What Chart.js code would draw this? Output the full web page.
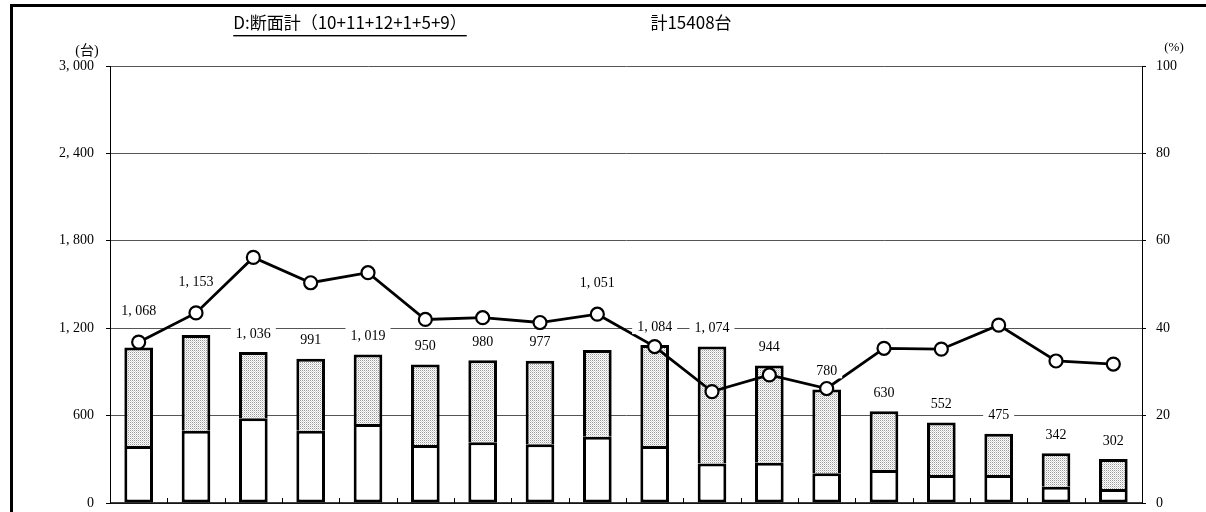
<!DOCTYPE html>
<html>
<head>
<meta charset="utf-8">
<script src="https://cdn.jsdelivr.net/npm/chart.js@4/dist/chart.umd.min.js"></script>
<style>
  html, body { margin: 0; padding: 0; background: #fff; }
  #wrap { position: relative; width: 1206px; height: 512px; }
</style>
</head>
<body>
<div id="wrap"><canvas id="chart" width="1206" height="512"></canvas></div>
<script>
// ── Data ──
const categories = ["1", "2", "3", "4", "5", "6", "7", "8", "9", "10", "11", "12", "13", "14", "15", "16", "17", "18"];
const totals = [1068, 1153, 1036, 991, 1019, 950, 980, 977, 1051, 1084, 1074, 944, 780, 630, 552, 475, 342, 302];
const lowerPart = [391, 496, 581, 496, 542, 398, 417, 403, 455, 391, 272, 277, 204, 227, 192, 192, 112, 96];
const ratioPct = [36.8, 43.5, 56.2, 50.4, 52.7, 42.0, 42.4, 41.3, 43.2, 35.8, 25.5, 29.3, 26.2, 35.4, 35.2, 40.7, 32.5, 31.8];
const leftTicks = [0, 600, 1200, 1800, 2400, 3000];
const rightTicks = [0, 20, 40, 60, 80, 100];
const titleText = "D:断面計（10+11+12+1+5+9）";
const totalText = "計15408台";

const upperPart = totals.map((t, i) => t - lowerPart[i]);

const SERIF = "'Liberation Serif', 'Noto Sans CJK JP', serif";
const GOTHIC = "'Noto Sans CJK JP', 'Noto Sans', sans-serif";

function fmtNum(v) {
  // thousands separator drawn wide, like the original
  return v.toLocaleString("en-US").replace(",", ", ");
}

function makeDotPattern() {
  const c = document.createElement("canvas");
  c.width = 2;
  c.height = 2;
  const g = c.getContext("2d");
  g.fillStyle = "#ffffff";
  g.fillRect(0, 0, 2, 2);
  g.fillStyle = "#9a9a9a";
  g.fillRect(0, 0, 1, 1);
  g.fillStyle = "#d4d4d4";
  g.fillRect(1, 1, 1, 1);
  return document.getElementById("chart").getContext("2d").createPattern(c, "repeat");
}

function noScalePad(s) {
  s.paddingTop = 0;
  s.paddingBottom = 0;
}

// frame, titles, unit labels, x axis
const decorPlugin = {
  id: "decor",
  beforeDraw(chart) {
    const ctx = chart.ctx;
    ctx.save();
    ctx.fillStyle = "#fff";
    ctx.fillRect(0, 0, chart.width, chart.height);
    ctx.fillStyle = "#000";
    ctx.fillRect(10, 4, chart.width - 10, 3);
    ctx.fillRect(10, 4, 3, chart.height - 4);
    ctx.restore();
  },
  afterDraw(chart) {
    const ctx = chart.ctx;
    ctx.save();
    ctx.fillStyle = "#000";
    ctx.textBaseline = "middle";
    ctx.font = "17px " + GOTHIC;
    ctx.textAlign = "center";
    ctx.fillText(titleText, 350, 23);
    const w = ctx.measureText(titleText).width;
    ctx.fillRect(350 - w / 2, 35, w, 1.4);
    ctx.fillText(totalText, 691, 23);

    ctx.font = "14px " + SERIF;
    ctx.fillText("(台)", 87, 51);
    ctx.font = "13px " + SERIF;
    ctx.fillText("(%)", 1174, 48);

    // x axis line and ticks between categories, pointing up
    const x = chart.scales.x;
    const area = chart.chartArea;
    ctx.strokeStyle = "#000";
    ctx.lineWidth = 1.5;
    ctx.beginPath();
    ctx.moveTo(area.left, area.bottom);
    ctx.lineTo(area.right, area.bottom);
    ctx.stroke();
    ctx.lineWidth = 1;
    for (let i = 1; i < categories.length; i++) {
      const px = Math.round((x.getPixelForValue(i - 1) + x.getPixelForValue(i)) / 2) + 0.5;
      ctx.beginPath();
      ctx.moveTo(px, area.bottom);
      ctx.lineTo(px, area.bottom - 5);
      ctx.stroke();
    }
    ctx.restore();
  },
};

// total value labels with white boxes
const totalLabelPlugin = {
  id: "totalLabels",
  afterDatasetsDraw(chart) {
    const ctx = chart.ctx;
    const y = chart.scales.y;
    const y1 = chart.scales.y1;
    const x = chart.scales.x;
    ctx.save();
    ctx.font = "14px " + SERIF;
    ctx.textAlign = "center";
    ctx.textBaseline = "middle";
    totals.forEach((t, i) => {
      const cx = x.getPixelForValue(i);
      const top = y.getPixelForValue(t);
      const pointY = y1.getPixelForValue(ratioPct[i]);
      let ly = top - 19;
      if (Math.abs(pointY - ly) < 17.5) ly = pointY - 32;
      const txt = fmtNum(t);
      const w = ctx.measureText(txt).width + 10;
      ctx.fillStyle = "#fff";
      ctx.fillRect(cx - w / 2, ly - 8, w, 16);
      ctx.fillStyle = "#000";
      ctx.fillText(txt, cx, ly + 1);
    });
    ctx.restore();
  },
};

function renderChart() {
  const ctx = document.getElementById("chart");
  const dots = makeDotPattern();

  new Chart(ctx, {
    type: "bar",
    data: {
      labels: categories,
      datasets: [
        {
          type: "line",
          label: "割合",
          data: ratioPct,
          yAxisID: "y1",
          borderColor: "#000",
          borderWidth: 2.8,
          pointRadius: 6.5,
          pointBorderWidth: 2.2,
          pointBackgroundColor: "#fff",
          pointBorderColor: "#000",
          tension: 0,
          fill: false,
          order: 0,
        },
        {
          label: "lower",
          data: lowerPart,
          yAxisID: "y",
          backgroundColor: "#fff",
          borderColor: "#000",
          borderWidth: 3,
          borderSkipped: false,
          barPercentage: 0.5,
          categoryPercentage: 1,
          stack: "s",
          order: 1,
        },
        {
          label: "upper",
          data: upperPart,
          yAxisID: "y",
          backgroundColor: dots,
          borderColor: "#000",
          borderWidth: { top: 3, left: 3, right: 3, bottom: 0 },
          borderSkipped: false,
          barPercentage: 0.5,
          categoryPercentage: 1,
          stack: "s",
          order: 2,
        },
      ],
    },
    options: {
      responsive: false,
      animation: false,
      devicePixelRatio: 1,
      layout: { padding: { left: 0, right: 0, top: 66, bottom: 9 } },
      plugins: {
        legend: { display: false },
        tooltip: { enabled: false },
      },
      scales: {
        x: {
          display: false,
          stacked: true,
          offset: true,
        },
        y: {
          stacked: true,
          position: "left",
          min: 0,
          max: 3000,
          afterBuildTicks(s) { s.ticks = leftTicks.map((v) => ({ value: v })); },
          afterFit(s) { s.width = 110; noScalePad(s); },
          ticks: {
            color: "#000",
            font: { family: SERIF, size: 14 },
            padding: 12,
            callback: (v) => fmtNum(v),
          },
          grid: { color: "#555", lineWidth: 1, tickLength: 4, tickColor: "#000" },
          border: { display: true, color: "#000", width: 1 },
        },
        y1: {
          position: "right",
          min: 0,
          max: 100,
          afterBuildTicks(s) { s.ticks = rightTicks.map((v) => ({ value: v })); },
          afterFit(s) { s.width = 64; noScalePad(s); },
          ticks: {
            color: "#000",
            font: { family: SERIF, size: 14 },
            padding: 10,
          },
          grid: { drawOnChartArea: false, tickLength: 4, tickColor: "#000" },
          border: { display: true, color: "#000", width: 1 },
        },
      },
    },
    plugins: [decorPlugin, totalLabelPlugin],
  });
}

renderChart();
</script>
</body>
</html>
